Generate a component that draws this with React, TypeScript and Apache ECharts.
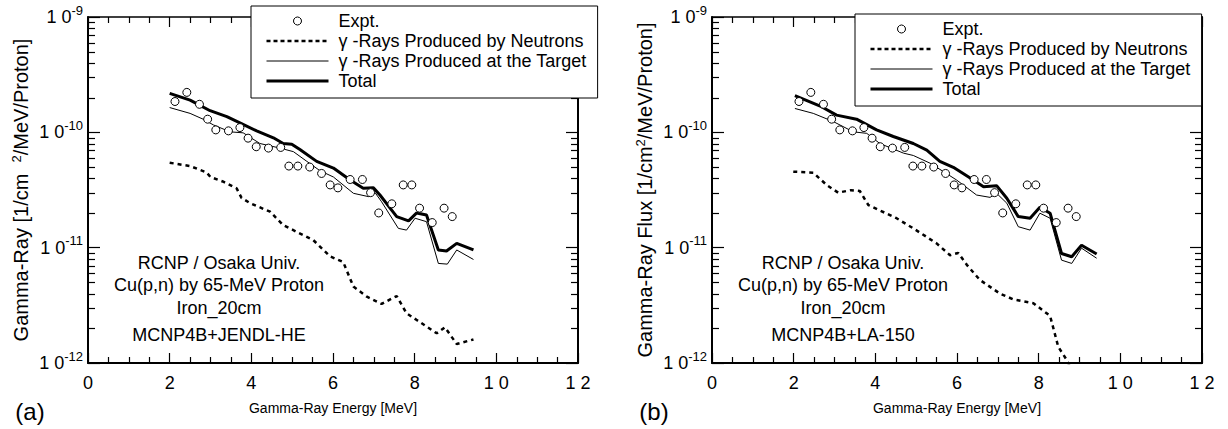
import React, { useEffect, useRef } from "react";
import * as echarts from "echarts";

const F = '"Liberation Sans", Arial, Helvetica, sans-serif';

const xTicks = [0, 2, 4, 6, 8, 10, 12];
const yDecades = [-12, -11, -10, -9];
const yMinorMult = [2, 3, 4, 5, 6, 7, 8, 9];

const NAME_EXPT = "Expt.";
const NAME_NEUT = "\u03b3 -Rays Produced by Neutrons";
const NAME_TARG = "\u03b3 -Rays Produced at the Target";
const NAME_TOT = "Total";

// Experimental points (same for both panels), values in 1e-11 units
const exptE = [2.13, 2.42, 2.73, 2.93, 3.13, 3.44, 3.72, 3.92, 4.12, 4.42, 4.72, 4.92, 5.14, 5.43, 5.72, 5.93, 6.12, 6.42, 6.72, 6.92, 7.12, 7.44, 7.72, 7.93, 8.12, 8.43, 8.72, 8.92];
const exptV = [18.5, 22.2, 17.5, 13.0, 10.5, 10.3, 11.0, 8.9, 7.5, 7.3, 7.4, 5.1, 5.1, 5.0, 4.4, 3.5, 3.3, 3.9, 3.9, 3.0, 2.0, 2.4, 3.5, 3.5, 2.2, 1.65, 2.2, 1.86];

// Panel (a): MCNP4B+JENDL-HE
const totalA_E = [2.0, 2.5, 2.99, 3.4, 3.72, 4.13, 4.54, 4.78, 4.99, 5.19, 5.6, 6.01, 6.42, 6.74, 6.99, 7.15, 7.56, 7.85, 8.05, 8.29, 8.58, 8.78, 9.03, 9.44];
const totalA = [21.8, 19.0, 15.4, 13.7, 12.1, 10.3, 8.97, 8.0, 7.9, 7.1, 5.6, 4.9, 3.86, 3.27, 3.3, 2.86, 1.86, 1.71, 2.0, 1.92, 0.955, 0.935, 1.09, 0.955];
const targetA_E = [2.0, 2.5, 2.82, 3.07, 3.48, 3.8, 4.21, 4.7, 5.03, 5.36, 5.68, 6.01, 6.5, 6.87, 7.03, 7.19, 7.6, 7.8, 8.01, 8.29, 8.58, 8.8, 9.03, 9.44];
const targetA = [16.4, 14.6, 13.0, 11.6, 10.1, 9.9, 8.0, 7.3, 6.8, 5.6, 4.65, 4.1, 2.96, 2.77, 3.0, 2.5, 1.47, 1.42, 1.8, 1.68, 0.73, 0.72, 0.955, 0.79];
const neutA_E = [2.0, 2.5, 2.9, 3.0, 3.3, 3.64, 3.76, 3.97, 4.46, 4.78, 5.52, 5.93, 6.25, 6.5, 6.83, 7.19, 7.56, 7.8, 8.05, 8.54, 8.74, 9.03, 9.44];
const neutA = [5.45, 5.1, 4.5, 4.1, 3.75, 3.27, 2.7, 2.43, 2.05, 1.57, 1.16, 0.84, 0.75, 0.46, 0.376, 0.325, 0.381, 0.27, 0.236, 0.181, 0.204, 0.146, 0.16];

// Panel (b): MCNP4B+LA-150
const totalB_E = [2.03, 2.65, 3.05, 3.54, 4.03, 4.44, 4.93, 5.26, 5.58, 5.91, 6.4, 6.65, 6.97, 7.22, 7.5, 7.79, 8.03, 8.28, 8.56, 8.81, 9.05, 9.42];
const totalB = [20.8, 16.9, 14.1, 13.0, 10.5, 9.2, 8.0, 7.0, 5.6, 4.97, 3.86, 3.38, 3.45, 2.68, 1.86, 1.8, 2.24, 1.99, 0.89, 0.835, 1.05, 0.88];
const targetB_E = [2.03, 2.48, 2.97, 3.46, 3.79, 4.11, 4.69, 4.93, 5.34, 5.67, 5.99, 6.48, 6.81, 6.97, 7.22, 7.5, 7.79, 8.03, 8.28, 8.56, 8.81, 9.05, 9.42];
const targetB = [16.1, 14.6, 12.4, 10.1, 9.8, 8.0, 6.6, 6.3, 5.4, 4.56, 3.86, 2.86, 2.73, 2.96, 2.43, 1.52, 1.42, 1.99, 1.8, 0.78, 0.73, 0.99, 0.81];
const neutB_E = [1.99, 2.48, 2.81, 3.09, 3.4, 3.62, 3.83, 4.52, 4.93, 5.5, 5.83, 6.03, 6.24, 6.56, 7.05, 7.38, 7.87, 8.28, 8.48, 8.69, 8.85];
const neutB = [4.56, 4.47, 3.49, 3.0, 3.15, 3.1, 2.34, 1.8, 1.47, 1.09, 0.86, 0.9, 0.71, 0.525, 0.40, 0.356, 0.33, 0.256, 0.138, 0.106, 0.08];

const annotA = ["RCNP / Osaka Univ.", "Cu(p,n) by 65-MeV Proton", "Iron_20cm", "MCNP4B+JENDL-HE"];
const annotB = ["RCNP / Osaka Univ.", "Cu(p,n) by 65-MeV Proton", "Iron_20cm", "MCNP4B+LA-150"];

const toPairs = (xs: number[], vs: number[]) => xs.map((x, i) => [x, vs[i] * 1e-11]);

const minorVals: number[] = [];
for (let d = yDecades[0]; d < yDecades[yDecades.length - 1]; d++) {
  for (const k of yMinorMult) minorVals.push(k * Math.pow(10, d));
}

const BLACK = "#000";

function panel(i: number, gridLeft: number, yName: string, data: any, annot: string[], tag: string, legendLeft: number, legendTop: number) {
  const grid = { left: gridLeft, top: 17, width: 490, height: 346 };
  const xMin = xTicks[0];
  const xMax = xTicks[xTicks.length - 1];
  const baseX = {
    gridIndex: i,
    type: "value",
    min: xMin,
    max: xMax,
    interval: 2,
    splitLine: { show: false },
    axisTick: { show: true, inside: true, length: 10, lineStyle: { color: BLACK, width: 1.2 } },
    minorTick: { show: true, splitNumber: 4, length: 6, lineStyle: { color: BLACK, width: 1.2 } },
  };
  const xAxes = [
    {
      ...baseX,
      position: "bottom",
      axisLine: { show: true, onZero: false, lineStyle: { color: BLACK, width: 2 } },
      axisLabel: {
        show: true,
        showMinLabel: true,
        showMaxLabel: true,
        margin: 11,
        fontSize: 18,
        fontFamily: F,
        color: BLACK,
        formatter: (v: number) => String(v).split("").join(" "),
      },
      name: "Gamma-Ray Energy [MeV]",
      nameLocation: "middle",
      nameGap: 38,
      nameTextStyle: { fontSize: 14, fontFamily: F, color: BLACK },
    },
    {
      ...baseX,
      position: "top",
      axisLine: { show: true, onZero: false, lineStyle: { color: BLACK, width: 1.5 } },
      axisLabel: { show: false },
    },
  ];
  const yAxes = [
    {
      gridIndex: i,
      type: "log",
      logBase: 10,
      min: Math.pow(10, yDecades[0]),
      max: Math.pow(10, yDecades[yDecades.length - 1]),
      splitNumber: 3,
      position: "left",
      splitLine: { show: false },
      axisLine: { show: true, onZero: false, lineStyle: { color: BLACK, width: 2 } },
      axisTick: { show: true, inside: true, length: 12, lineStyle: { color: BLACK, width: 1.2 } },
      axisLabel: {
        show: true,
        showMinLabel: true,
        showMaxLabel: true,
        margin: 5,
        formatter: (v: number) => `{b|1 0}{s|${Math.round(Math.log10(v))}}`,
        rich: {
          b: { fontSize: 18, fontFamily: F, color: BLACK },
          s: { fontSize: 13, fontFamily: F, color: BLACK, verticalAlign: "top", padding: [0, 0, 14, 0] },
        },
      },
      name: yName,
      nameLocation: "middle",
      nameGap: 56,
      nameTextStyle: {
        fontSize: 20,
        fontFamily: F,
        color: BLACK,
        rich: { s: { fontSize: 13, fontFamily: F, color: BLACK, verticalAlign: "top", padding: [0, 0, 9, 0] } },
      },
    },
    {
      gridIndex: i,
      type: "value",
      min: yDecades[0],
      max: yDecades[yDecades.length - 1],
      interval: 1,
      position: "right",
      splitLine: { show: false },
      axisLine: { show: true, onZero: false, lineStyle: { color: BLACK, width: 2 } },
      axisLabel: { show: false },
      axisTick: { show: true, inside: true, length: 12, lineStyle: { color: BLACK, width: 1.2 } },
    },
  ];
  const xi = i * 2;
  const yi = i * 2;
  const series: any[] = [
    {
      type: "line",
      name: NAME_NEUT,
      xAxisIndex: xi,
      yAxisIndex: yi,
      data: data.neut,
      symbol: "none",
      showSymbol: false,
      lineStyle: { color: BLACK, width: 2.5, type: [4, 4] },
      itemStyle: { color: BLACK },
      z: 3,
    },
    {
      type: "line",
      name: NAME_TARG,
      xAxisIndex: xi,
      yAxisIndex: yi,
      data: data.targ,
      symbol: "none",
      showSymbol: false,
      lineStyle: { color: BLACK, width: 1 },
      itemStyle: { color: BLACK },
      z: 3,
    },
    {
      type: "line",
      name: NAME_TOT,
      xAxisIndex: xi,
      yAxisIndex: yi,
      data: data.tot,
      symbol: "none",
      showSymbol: false,
      lineStyle: { color: BLACK, width: 3 },
      itemStyle: { color: BLACK },
      z: 3,
    },
    {
      type: "scatter",
      name: NAME_EXPT,
      xAxisIndex: xi,
      yAxisIndex: yi,
      data: data.expt,
      symbol: "circle",
      symbolSize: 8,
      itemStyle: { color: "#fff", borderColor: BLACK, borderWidth: 1, opacity: 1 },
      z: 5,
    },
    {
      // minor log ticks on the left and right frame edges
      type: "custom",
      xAxisIndex: xi,
      yAxisIndex: yi,
      silent: true,
      clip: false,
      z: 4,
      data: minorVals.map((v) => [xMin, v]),
      renderItem: (params: any, api: any) => {
        const p = api.coord([xMin, api.value(1)]);
        const q = api.coord([xMax, api.value(1)]);
        const y = Math.round(p[1]) + 0.5;
        return {
          type: "group",
          children: [
            { type: "line", shape: { x1: p[0], y1: y, x2: p[0] + 7, y2: y }, style: { stroke: BLACK, lineWidth: 1.2 } },
            { type: "line", shape: { x1: q[0] - 7, y1: y, x2: q[0], y2: y }, style: { stroke: BLACK, lineWidth: 1.2 } },
          ],
        };
      },
    },
  ];
  const hiddenSym = { color: "rgba(0,0,0,0)", borderWidth: 0, opacity: 0 };
  const legend = {
    orient: "vertical",
    left: legendLeft,
    top: legendTop,
    itemWidth: 62,
    itemHeight: 8,
    itemGap: 2,
    padding: [6, 11, 8, 14],
    borderColor: BLACK,
    borderWidth: 1,
    backgroundColor: "#fff",
    selectedMode: false,
    textStyle: { fontSize: 18, lineHeight: 18, fontFamily: F, color: BLACK, padding: [0, 0, 0, 5] },
    data: [
      { name: NAME_EXPT, itemStyle: { color: "#fff", borderColor: BLACK, borderWidth: 1 } },
      { name: NAME_NEUT, itemStyle: hiddenSym, lineStyle: { color: BLACK, width: 2.5, type: [4, 3] } },
      { name: NAME_TARG, itemStyle: hiddenSym, lineStyle: { color: BLACK, width: 1 } },
      { name: NAME_TOT, itemStyle: hiddenSym, lineStyle: { color: BLACK, width: 3 } },
    ],
    z: 10,
  };
  const cx = gridLeft + 131;
  const ys = [263, 285, 308, 335];
  const graphics: any[] = annot.map((t, k) => ({
    type: "text",
    x: cx,
    y: ys[k],
    z: 20,
    style: { text: t, fontSize: 18, fontFamily: F, fill: BLACK, align: "center", verticalAlign: "middle" },
  }));
  graphics.push({
    type: "text",
    x: gridLeft - 58,
    y: 411,
    z: 20,
    style: { text: tag, fontSize: 24, fontFamily: F, fill: BLACK, align: "center", verticalAlign: "middle" },
  });
  return { grid, xAxes, yAxes, series, legend, graphics };
}

export default function App() {
  const ref = useRef<HTMLDivElement>(null);
  useEffect(() => {
    document.body.style.margin = "0";
    if (!ref.current) return;
    const chart = echarts.init(ref.current, null, { renderer: "svg" });
    const pA = panel(
      0,
      88,
      "Gamma-Ray [1/cm  {s|2}/MeV/Proton]",
      { expt: toPairs(exptE, exptV), tot: toPairs(totalA_E, totalA), targ: toPairs(targetA_E, targetA), neut: toPairs(neutA_E, neutA) },
      annotA,
      "(a)",
      251,
      6
    );
    const pB = panel(
      1,
      712,
      "Gamma-Ray Flux [1/cm{s|2}/MeV/Proton]",
      { expt: toPairs(exptE, exptV), tot: toPairs(totalB_E, totalB), targ: toPairs(targetB_E, targetB), neut: toPairs(neutB_E, neutB) },
      annotB,
      "(b)",
      855,
      14
    );
    chart.setOption({
      animation: false,
      backgroundColor: "#fff",
      textStyle: { fontFamily: F },
      grid: [pA.grid, pB.grid],
      xAxis: [...pA.xAxes, ...pB.xAxes],
      yAxis: [...pA.yAxes, ...pB.yAxes],
      legend: [pA.legend, pB.legend],
      series: [...pA.series, ...pB.series],
      graphic: [...pA.graphics, ...pB.graphics],
    });
    return () => chart.dispose();
  }, []);
  return <div ref={ref} style={{ width: 1228, height: 429 }} />;
}
